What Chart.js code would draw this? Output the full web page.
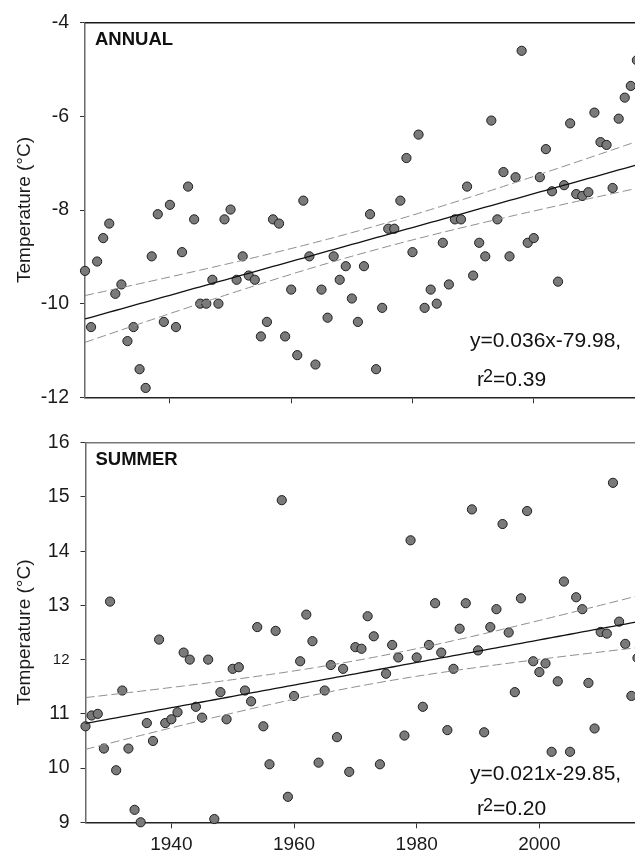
<!DOCTYPE html>
<html>
<head>
<meta charset="utf-8">
<script src="https://cdn.jsdelivr.net/npm/chart.js@4/dist/chart.umd.min.js"></script>
<style>
  html, body { margin: 0; padding: 0; background: #fff; overflow: hidden; }
  body { width: 635px; height: 855px; position: relative; }
  canvas { position: absolute; left: 0; }
  #annual { top: 0; }
  #summer { top: 420px; }
</style>
</head>
<body>
<canvas id="annual" width="660" height="420"></canvas>
<canvas id="summer" width="670" height="435"></canvas>
<script>
'use strict';

// Mean temperature per year.
const annualFirstYear = 1926;
const annualTemps = [
    -9.30, -10.50, -9.10, -8.60, -8.29, -9.79, -9.59, -10.80, -10.50, -11.40,
    -11.80, -8.99, -8.09, -10.39, -7.89, -10.50, -8.90, -7.50, -8.20, -10.00,
    -10.00, -9.49, -10.00, -8.20, -7.99, -9.49, -8.99, -9.40, -9.49, -10.70,
    -10.39, -8.20, -8.29, -10.70, -9.70, -11.10, -7.80, -8.99, -11.30, -9.70,
    -10.30, -8.99, -9.49, -9.20, -9.89, -10.39, -9.20, -8.09, -11.40, -10.09,
    -8.40, -8.40, -7.80, -6.89, -8.90, -6.39, -10.09, -9.70, -10.00, -8.70,
    -9.59, -8.20, -8.20, -7.50, -9.40, -8.70, -8.99, -6.09, -8.20, -7.19,
    -8.99, -7.30, -4.60, -8.70, -8.60, -7.30, -6.70, -7.60, -9.53, -7.47,
    -6.15, -7.66, -7.70, -7.62, -5.92, -6.55, -6.61, -7.53, -6.05, -5.60,
    -5.35, -4.80,
];

const summerFirstYear = 1926;
const summerTemps = [
    10.77, 10.97, 11.00, 10.36, 13.07, 9.96, 11.43, 10.36, 9.23, 9.00,
    10.83, 10.50, 12.37, 10.83, 10.90, 11.03, 12.13, 12.00, 11.13, 10.93,
    12.00, 9.06, 11.40, 10.90, 11.83, 11.86, 11.43, 11.23, 12.60, 10.77,
    10.07, 12.53, 14.94, 9.47, 11.33, 11.97, 12.83, 12.34, 10.10, 11.43,
    11.90, 10.57, 11.83, 9.93, 12.23, 12.20, 12.80, 12.43, 10.07, 11.74,
    12.27, 12.04, 10.60, 14.20, 12.04, 11.13, 12.27, 13.04, 12.13, 10.70,
    11.83, 12.57, 13.04, 14.77, 12.17, 10.66, 12.60, 12.93, 14.50, 12.50,
    11.40, 13.13, 14.74, 11.97, 11.77, 11.93, 10.30, 11.60, 13.44, 10.30,
    13.15, 12.93, 11.57, 10.73, 12.51, 12.48, 15.26, 12.70, 12.29, 11.33,
    12.03,
];

const yearTicks = [1940, 1960, 1980, 2000];
const annualTicks = [-12, -10, -8, -6, -4];
const summerTicks = [9, 10, 11, 12, 13, 14, 15, 16];

const annualEquation = ['y=0.036x-79.98,', '0.39'];
const summerEquation = ['y=0.021x-29.85,', '0.20'];

const FONT = '"Liberation Sans", Arial, Helvetica, sans-serif';

function toPoints(firstYear, temps) {
    return temps.map((t, i) => ({ x: firstYear + i, y: t }));
}

// Least-squares line with its 95% confidence band of the mean.
function regression(points) {
    const n = points.length;
    const mx = points.reduce((s, p) => s + p.x, 0) / n;
    const my = points.reduce((s, p) => s + p.y, 0) / n;
    let sxx = 0, sxy = 0;
    points.forEach(p => { sxx += (p.x - mx) ** 2; sxy += (p.x - mx) * (p.y - my); });
    const b = sxy / sxx;
    const a = my - b * mx;
    let sse = 0;
    points.forEach(p => { sse += (p.y - a - b * p.x) ** 2; });
    const s = Math.sqrt(sse / (n - 2));
    const t = 1.987;
    const fit = [], upper = [], lower = [];
    points.forEach(p => {
        const yhat = a + b * p.x;
        const h = t * s * Math.sqrt(1 / n + (p.x - mx) ** 2 / sxx);
        fit.push({ x: p.x, y: yhat });
        upper.push({ x: p.x, y: yhat + h });
        lower.push({ x: p.x, y: yhat - h });
    });
    return { fit, upper, lower };
}

const panelNotes = {
    id: 'panelNotes',
    afterDraw(chart, args, opts) {
        const ctx = chart.ctx;
        const area = chart.chartArea;
        ctx.save();
        ctx.strokeStyle = opts.frameColor;
        ctx.lineWidth = 1.5;
        ctx.beginPath();
        ctx.moveTo(area.left, area.top);
        ctx.lineTo(area.right, area.top);
        ctx.stroke();

        ctx.fillStyle = '#111';
        ctx.textBaseline = 'alphabetic';
        ctx.textAlign = 'left';
        ctx.font = 'bold 18.5px ' + FONT;
        ctx.fillText(opts.label, area.left + 10, area.top + 22);

        ctx.font = '21px ' + FONT;
        ctx.fillText(opts.equation[0], opts.eqX, area.bottom - opts.eqDy);
        const by = area.bottom - opts.r2Dy;
        let x = opts.eqX + 7;
        ctx.fillText('r', x, by);
        x += ctx.measureText('r').width;
        ctx.font = '18px ' + FONT;
        ctx.fillText('2', x - 1, by - 4);
        x += ctx.measureText('2').width - 1;
        ctx.font = '21px ' + FONT;
        ctx.fillText('=' + opts.equation[1], x, by);
        ctx.restore();
    },
};

function makePanel(canvas, cfg) {
    const points = toPoints(cfg.firstYear, cfg.temps);
    const reg = regression(points);
    const dash = { showLine: true, pointRadius: 0, borderColor: '#8e8e8e', borderWidth: 1, borderDash: [9, 4], fill: false, clip: false };

    return new Chart(canvas, {
        type: 'scatter',
        data: {
            datasets: [
                { data: reg.upper, ...dash },
                { data: reg.lower, ...dash },
                { data: reg.fit, showLine: true, pointRadius: 0, borderColor: '#111', borderWidth: 1.3, fill: false, clip: false },
                {
                    data: points,
                    pointRadius: 4.6,
                    pointBackgroundColor: '#7a7a7a',
                    pointBorderColor: '#1e1e1e',
                    pointBorderWidth: 1,
                    clip: false,
                },
            ],
        },
        options: {
            responsive: false,
            animation: false,
            events: [],
            layout: { padding: { top: cfg.padTop, right: cfg.padRight, left: 0, bottom: 0 } },
            plugins: {
                legend: { display: false },
                tooltip: { enabled: false },
                panelNotes: {
                    label: cfg.label,
                    equation: cfg.equation,
                    frameColor: cfg.frameColor,
                    eqX: 470,
                    eqDy: cfg.eqDy,
                    r2Dy: cfg.r2Dy,
                },
            },
            scales: {
                x: {
                    type: 'linear',
                    min: 1926,
                    max: 2019,
                    afterBuildTicks: s => { s.ticks = yearTicks.map(v => ({ value: v })); },
                    afterFit: s => { s.height = cfg.xHeight; },
                    grid: { drawOnChartArea: false, drawTicks: true, tickLength: 6, color: '#333', lineWidth: 1 },
                    border: { display: true, color: '#222', width: 1.5 },
                    ticks: {
                        display: cfg.showYears,
                        padding: 5,
                        color: '#1a1a1a',
                        font: { family: FONT, size: 19 },
                        callback: v => String(v),
                        maxRotation: 0,
                        autoSkip: false,
                    },
                },
                y: {
                    type: 'linear',
                    min: cfg.yTicks[0],
                    max: cfg.yTicks[cfg.yTicks.length - 1],
                    afterBuildTicks: s => { s.ticks = cfg.yTicks.map(v => ({ value: v })); },
                    afterFit: s => { s.width = cfg.yWidth; },
                    grid: { drawOnChartArea: false, drawTicks: true, tickLength: 5, color: '#333', lineWidth: 1 },
                    border: { display: true, color: '#6b6b6b', width: 1.5 },
                    ticks: {
                        padding: 11,
                        color: '#1a1a1a',
                        font: c => ({ family: FONT, size: cfg.smallTick === (c.tick && c.tick.value) ? 15 : 19.5 }),
                        callback: v => String(v),
                        autoSkip: false,
                    },
                    title: {
                        display: true,
                        text: 'Temperature (°C)',
                        color: '#1a1a1a',
                        font: { family: FONT, size: 19 },
                        padding: { top: 13.6, bottom: 0 },
                    },
                },
            },
        },
        plugins: [panelNotes],
    });
}

makePanel(document.getElementById('annual'), {
    firstYear: annualFirstYear,
    temps: annualTemps,
    yTicks: annualTicks,
    label: 'ANNUAL',
    equation: annualEquation,
    frameColor: '#1a1a1a',
    padTop: 14.3,
    padRight: 11,
    xHeight: 15.7,
    yWidth: 85,
    showYears: false,
    eqDy: 50,
    r2Dy: 11,
    smallTick: null,
});

makePanel(document.getElementById('summer'), {
    firstYear: summerFirstYear,
    temps: summerTemps,
    yTicks: summerTicks,
    label: 'SUMMER',
    equation: summerEquation,
    frameColor: '#777',
    padTop: 12.7,
    padRight: 14.1,
    xHeight: 32.7,
    yWidth: 85.5,
    showYears: true,
    eqDy: 42,
    r2Dy: 7,
    smallTick: 12,
});
</script>
</body>
</html>
